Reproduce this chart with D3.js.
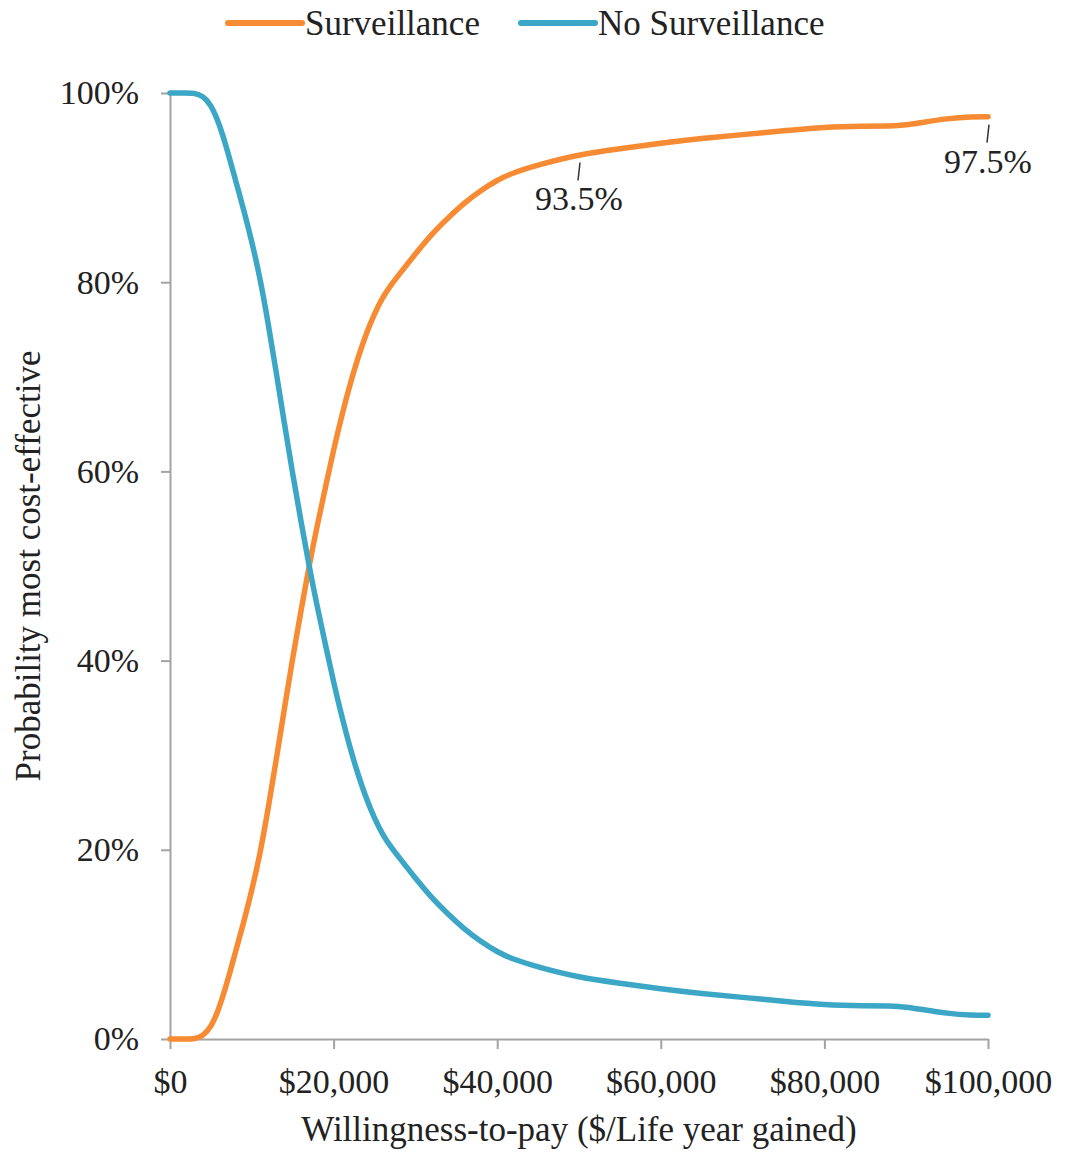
<!DOCTYPE html>
<html>
<head>
<meta charset="utf-8">
<script src="https://cdn.jsdelivr.net/npm/d3@7"></script>
<style>
  html, body { margin: 0; padding: 0; background: #fff; }
  svg { display: block; }
  svg text { font-family: "Liberation Serif", "Tinos", "Times New Roman", "Nimbus Roman", "DejaVu Serif", serif; fill: #222; }
</style>
</head>
<body>
<svg id="chart" width="1066" height="1153"></svg>
<script>
// Willingness-to-pay thresholds ($ per life year gained)
const wtp = [0, 2000, 3000, 4000, 5000, 6000, 7000, 8000, 9000, 10000,
  11000, 12000, 13000, 14000, 15000, 16000, 17000, 18000, 19000, 20000,
  21000, 22000, 23000, 24000, 25000, 26000, 27000, 28000,
  30000, 32000, 34000, 36000, 38000, 40000, 42000, 45000,
  50000, 55000, 60000, 65000, 70000, 75000, 80000, 85000, 88000, 90000, 92000, 95000, 98000, 100000];

// Probability (%) that each strategy is most cost-effective
const surveillance = [0, 0, 0, 0.3, 1.2, 3.2, 6.0, 9.2, 12.3, 15.7,
  19.5, 24.3, 29.6, 35.0, 40.3, 45.2, 50.0, 54.3, 58.3, 62.3,
  65.9, 69.2, 72.1, 74.6, 76.7, 78.4, 79.7, 80.8,
  83.0, 85.1, 86.8, 88.4, 89.7, 90.8, 91.6, 92.4,
  93.5, 94.1, 94.7, 95.2, 95.6, 96.0, 96.4, 96.5, 96.5, 96.6, 96.9, 97.3, 97.5, 97.5];

const noSurveillance = [100, 100, 100, 99.7, 98.8, 96.8, 94.0, 90.8, 87.7, 84.3,
  80.5, 75.7, 70.4, 65.0, 59.7, 54.8, 50.0, 45.7, 41.7, 37.7,
  34.1, 30.8, 27.9, 25.4, 23.3, 21.6, 20.3, 19.2,
  17.0, 14.9, 13.2, 11.6, 10.3, 9.2, 8.4, 7.6,
  6.5, 5.9, 5.3, 4.8, 4.4, 4.0, 3.6, 3.5, 3.5, 3.4, 3.1, 2.7, 2.5, 2.5];

const xTicks = [0, 20000, 40000, 60000, 80000, 100000];
const yTicks = [0, 20, 40, 60, 80, 100];

// Annotated points on the Surveillance curve
const annotations = [
  { wtp: 50000, value: 93.5, label: "93.5%" },
  { wtp: 100000, value: 97.5, label: "97.5%" }
];

const seriesNames = ["Surveillance", "No Surveillance"];
const seriesColors = ["#F68B33", "#3BA6C6"];

const FONT = "'Liberation Serif', Tinos, 'Times New Roman', 'Nimbus Roman', 'DejaVu Serif', serif";

const svg = d3.select("#chart");
const margin = { left: 170, right: 78, top: 93, bottom: 114 };
const W = 1066, H = 1153;

const x = d3.scaleLinear().domain([0, 100000]).range([margin.left, W - margin.right]);
const y = d3.scaleLinear().domain([0, 100]).range([H - margin.bottom, margin.top]);

const axisColor = "#A3A3A3";

// X axis
const xAxis = svg.append("g")
  .attr("transform", `translate(0,${y(0)})`)
  .call(d3.axisBottom(x).tickValues(xTicks).tickSizeInner(10).tickSizeOuter(0).tickPadding(20)
    .tickFormat(d => "$" + d3.format(",")(d)));
xAxis.attr("font-family", FONT);
xAxis.select(".domain").attr("stroke", axisColor).attr("stroke-width", 2);
xAxis.selectAll(".tick line").attr("stroke", axisColor).attr("stroke-width", 2);
xAxis.selectAll(".tick text").attr("font-size", 34).attr("fill", "#222");

// Y axis
const yAxis = svg.append("g")
  .attr("transform", `translate(${x(0)},0)`)
  .call(d3.axisLeft(y).tickValues(yTicks).tickSizeInner(9).tickSizeOuter(0).tickPadding(22)
    .tickFormat(d => d + "%"));
yAxis.attr("font-family", FONT);
yAxis.select(".domain").attr("stroke", axisColor).attr("stroke-width", 2);
yAxis.selectAll(".tick line").attr("stroke", axisColor).attr("stroke-width", 2);
yAxis.selectAll(".tick text").attr("font-size", 34).attr("fill", "#222");

// Axis titles
svg.append("text")
  .attr("x", (x(0) + x(100000)) / 2)
  .attr("y", 1141)
  .attr("text-anchor", "middle")
  .attr("font-size", 35)
  .text("Willingness-to-pay  ($/Life year gained)");

svg.append("text")
  .attr("transform", `translate(40,${(y(0) + y(100)) / 2}) rotate(-90)`)
  .attr("text-anchor", "middle")
  .attr("font-size", 35)
  .text("Probability most cost-effective");

// Curves
const line = d3.line()
  .x(d => x(d[0]))
  .y(d => y(d[1]))
  .curve(d3.curveBasis);

const seriesData = [surveillance, noSurveillance];
seriesData.forEach((vals, i) => {
  svg.append("path")
    .datum(wtp.map((w, j) => [w, vals[j]]))
    .attr("fill", "none")
    .attr("stroke", seriesColors[i])
    .attr("stroke-width", 5.5)
    .attr("stroke-linejoin", "round")
    .attr("stroke-linecap", "round")
    .attr("d", line);
});

// Data labels with leader lines
annotations.forEach(a => {
  const px = x(a.wtp), py = y(a.value);
  svg.append("line")
    .attr("x1", px + 1).attr("y1", py + 8)
    .attr("x2", px - 1).attr("y2", py + 26)
    .attr("stroke", "#333").attr("stroke-width", 1.5);
  svg.append("text")
    .attr("x", px)
    .attr("y", py + 56)
    .attr("text-anchor", "middle")
    .attr("font-size", 34)
    .text(a.label);
});

// Legend
const legendItems = [
  { name: seriesNames[0], color: seriesColors[0], x0: 228 },
  { name: seriesNames[1], color: seriesColors[1], x0: 521 }
];
legendItems.forEach(it => {
  svg.append("line")
    .attr("x1", it.x0).attr("x2", it.x0 + 74)
    .attr("y1", 23).attr("y2", 23)
    .attr("stroke", it.color).attr("stroke-width", 6)
    .attr("stroke-linecap", "round");
  svg.append("text")
    .attr("x", it.x0 + 77)
    .attr("y", 35)
    .attr("font-size", 35)
    .text(it.name);
});
</script>
</body>
</html>
